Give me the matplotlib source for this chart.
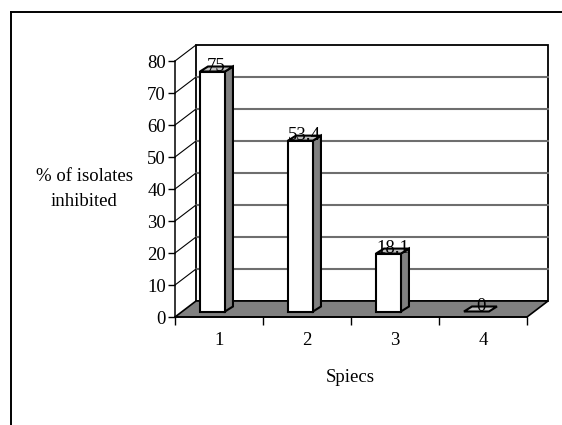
import matplotlib
matplotlib.use('Agg')
import matplotlib.pyplot as plt
from matplotlib.patches import Polygon
from matplotlib.lines import Line2D
from matplotlib.transforms import IdentityTransform

# ---- data ----
categories = ['1', '2', '3', '4']
values = [75, 53.4, 18.1, 0]
value_labels = ['75', '53.4', '18.1', '0']
y_ticks = [0, 10, 20, 30, 40, 50, 60, 70, 80]
x_title = 'Spiecs'
y_title = '% of isolates\ninhibited'

# ---- style ----
W, H = 562, 425
FS = 13.5
GRAY = '#808080'
LIGHT = '#c0c0c0'
DEPTH = (21, 16)            # floor / wall depth in pixels
BAR_FRONT = (5, 5.5)        # bar front face offset (pixels)
BAR_BACK = (13, 10.5)       # bar back face offset (pixels)
BAR_LEFT, BAR_W = 0.227, 0.284

plt.rcParams['font.family'] = ['Liberation Serif', 'DejaVu Serif']

fig = plt.figure(figsize=(W / 100, H / 100), dpi=100)
ax = fig.add_axes([175 / W, 108 / H, 352 / W, 256 / H])
n = len(categories)
ax.set_xlim(0, n)
ax.set_ylim(0, y_ticks[-1])
ax.patch.set_visible(False)
for s in ['top', 'right', 'bottom']:
    ax.spines[s].set_visible(False)
ax.spines['left'].set_linewidth(1.1)
ax.spines['left'].set_zorder(6)

ID = IdentityTransform()


def P(x, y, off=(0, 0), k=1.0):
    px, py = ax.transData.transform((x, y))
    return (px + k * off[0], py + k * off[1])


def poly(pts, fc, ec='black', lw=1.2, z=2):
    ax.add_patch(Polygon(pts, closed=True, facecolor=fc, edgecolor=ec,
                         linewidth=lw, transform=ID, clip_on=False, zorder=z,
                         joinstyle='miter'))


def line(pts, color='black', lw=1.0, z=2):
    xs = [p[0] for p in pts]
    ys = [p[1] for p in pts]
    ax.add_line(Line2D(xs, ys, color=color, linewidth=lw, transform=ID,
                       clip_on=False, zorder=z))


ymax = y_ticks[-1]
# back wall
poly([P(0, 0, DEPTH), P(n, 0, DEPTH), P(n, ymax, DEPTH), P(0, ymax, DEPTH)],
     'white', lw=1.3, z=1)
# gridlines on back wall
for t in y_ticks[1:-1]:
    line([P(0, t, DEPTH), P(n, t, DEPTH)], color='#6e6e6e', lw=1.5, z=1.5)
# left wall diagonals
for t in y_ticks[1:]:
    line([P(0, t), P(0, t, DEPTH)], color='black', lw=0.8, z=1.5)
# floor
poly([P(0, 0), P(n, 0), P(n, 0, DEPTH), P(0, 0, DEPTH)], GRAY, lw=1.2, z=2)

# bars
for i, v in enumerate(values):
    x0 = i + BAR_LEFT
    x1 = x0 + BAR_W
    if v > 0:
        # side
        poly([P(x1, 0, BAR_FRONT), P(x1, 0, BAR_BACK), P(x1, v, BAR_BACK),
              P(x1, v, BAR_FRONT)], GRAY, lw=1.5, z=3)
        # front
        poly([P(x0, 0, BAR_FRONT), P(x1, 0, BAR_FRONT), P(x1, v, BAR_FRONT),
              P(x0, v, BAR_FRONT)], 'white', lw=1.5, z=3.1)
    # top
    poly([P(x0, v, BAR_FRONT), P(x1, v, BAR_FRONT), P(x1, v, BAR_BACK),
          P(x0, v, BAR_BACK)], LIGHT, lw=1.5, z=3.2)
    mid = ((BAR_FRONT[0] + BAR_BACK[0]) / 2, (BAR_FRONT[1] + BAR_BACK[1]) / 2)
    tx, ty = P((x0 + x1) / 2, v, mid)
    ax.text(tx, ty - 2, value_labels[i], transform=ID, ha='center',
            va='baseline', fontsize=FS, zorder=5)

# front floor edge (x axis line)
line([P(0, 0), P(n, 0)], color='black', lw=1.2, z=6)

# ticks
ax.set_yticks(y_ticks)
ax.set_yticklabels([str(t) for t in y_ticks])
ax.tick_params(axis='y', direction='out', length=5, width=1.0, pad=1.5,
               labelsize=FS)
ax.set_xticks(range(n + 1))
ax.set_xticklabels([''] * (n + 1))
ax.set_xticks([i + 0.5 for i in range(n)], minor=True)
ax.set_xticklabels(categories, minor=True)
ax.tick_params(axis='x', which='major', direction='out', length=6, width=1.0)
ax.tick_params(axis='x', which='minor', length=0, pad=11, labelsize=FS)

# axis titles
fig.text(350 / W, 1 - 377 / H, x_title, ha='center', va='center', fontsize=FS)
fig.text(84 / W, 1 - 189 / H, y_title, ha='center', va='center',
         fontsize=FS, linespacing=1.6, multialignment='center')

# outer chart border
fig.add_artist(Line2D([11 / W, 11 / W], [0, 1 - 12 / H], transform=fig.transFigure,
                      color='black', linewidth=1.4))
fig.add_artist(Line2D([11 / W, 1], [1 - 12 / H, 1 - 12 / H], transform=fig.transFigure,
                      color='black', linewidth=1.4))

fig.savefig('out.png', dpi=100)
